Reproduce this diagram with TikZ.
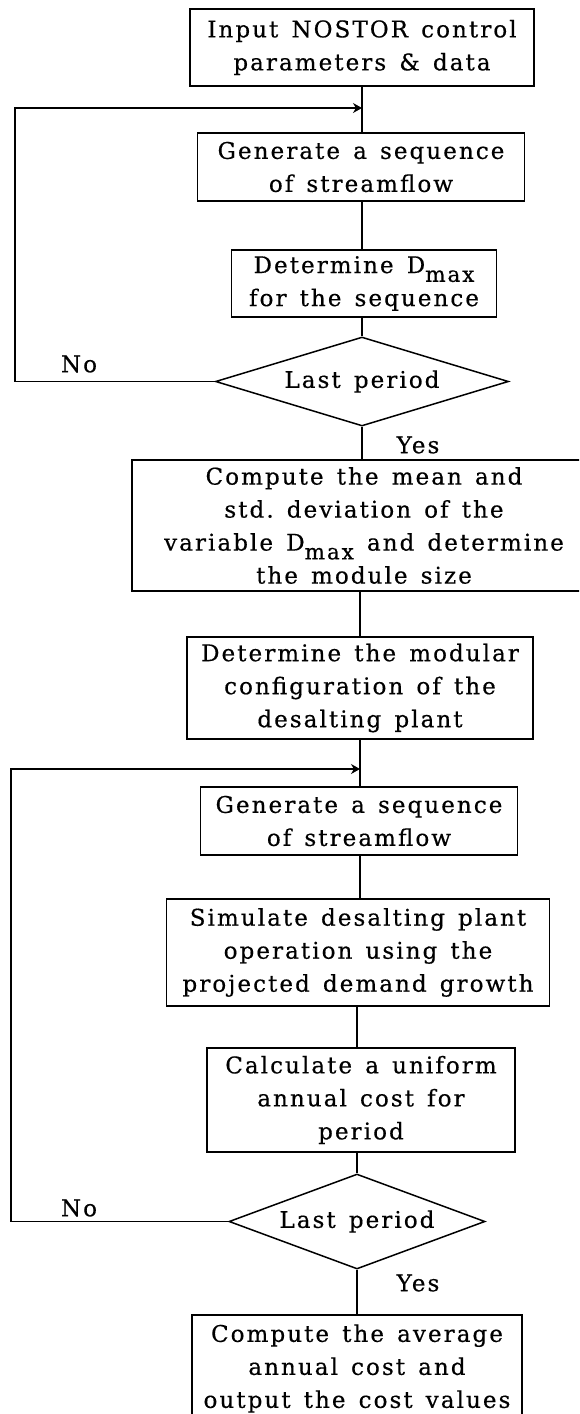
\documentclass[tikz,border=0pt]{standalone}
\usepackage{fontspec}
\setmainfont{DejaVu Serif}[LetterSpace=9,WordSpace=1.4,FakeBold=0.5]
\usetikzlibrary{shapes.geometric,arrows.meta}
% D with a lowered "max" subscript that does not push the lines apart
\newcommand{\dmaxsym}{D\smash{\raisebox{-0.38em}{\fontsize{21.5}{21.5}\selectfont max}}}
\begin{document}
\begin{tikzpicture}[x=1pt,y=-1pt,
  txt/.style={font=\fontsize{23}{33}\selectfont},
  box/.style={txt,draw,line width=1.5pt,inner sep=0pt,align=center},
  dec/.style={txt,diamond,draw,line width=1.5pt,inner sep=0pt,align=center},
  link/.style={line width=1.2pt},
  back/.style={link,-{Stealth[length=9pt,width=10pt]}},
  lbl/.style={txt,inner sep=0pt}]
\useasboundingbox (0,0) rectangle (579,1414);
\fill[white] (0,0) rectangle (579,1414);
\clip (0,0) rectangle (579,1414);

% process boxes and decisions
\node[box,minimum width=344,minimum height=77] (b1) at (362,47.5)
  {Input NOSTOR control\\parameters \& data};
\node[box,minimum width=327,minimum height=68] (b2) at (361,167)
  {Generate a sequence\\of streamflow};
\node[box,minimum width=265,minimum height=67] (b3) at (364,283.5)
  {Determine \dmaxsym\\for the sequence};
\node[dec,shape aspect=3.3,minimum width=293,minimum height=89] (d1) at (362,381.5)
  {Last period};
\node[box,minimum width=464,minimum height=131] (b4) at (364,525.5)
  {Compute the mean and\\std.\ deviation of the\\variable \dmaxsym{} and determine\\the module size};
\node[box,minimum width=346,minimum height=102] (b5) at (360,688)
  {Determine the modular\\configuration of the\\desalting plant};
\node[box,minimum width=317,minimum height=68] (b6) at (359,821)
  {Generate a sequence\\of streamflow};
\node[box,minimum width=383,minimum height=107] (b7) at (358,952.5)
  {Simulate desalting plant\\operation using the\\projected demand growth};
\node[box,minimum width=308,minimum height=104] (b8) at (361,1100)
  {Calculate a uniform\\annual cost for\\period};
\node[dec,shape aspect=2.7,minimum width=256,minimum height=95] (d2) at (357,1221.5)
  {Last period};
\node[box,minimum width=330,minimum height=107] (b9) at (357,1368.5)
  {Compute the average\\annual cost and\\output the cost values};

% branch labels
\node[lbl] (no1) at (79,364) {No};
\node[lbl] (yes1) at (418,445) {Yes};
\node[lbl] (no2) at (79,1208) {No};
\node[lbl] (yes2) at (418,1283) {Yes};

% main flow, kept on one vertical spine
\coordinate (s1) at (362,0);
\coordinate (s2) at (360,0);
\coordinate (s3) at (357,0);
\draw[link] (s1 |- b1.south) -- (s1 |- b2.north);
\draw[link] (s1 |- b2.south) -- (s1 |- b3.north);
\draw[link] (s1 |- b3.south) -- (d1.north);
\draw[link] (d1.south) -- (s1 |- b4.north);
\draw[link] (s2 |- b4.south) -- (s2 |- b5.north);
\draw[link] (s2 |- b5.south) -- (s2 |- b6.north);
\draw[link] (s2 |- b6.south) -- (s2 |- b7.north);
\draw[link] (s3 |- b7.south) -- (s3 |- b8.north);
\draw[link] (s3 |- b8.south) -- (d2.north);
\draw[link] (d2.south) -- (s3 |- b9.north);

% return loops
\coordinate (j1) at (362,108);
\coordinate (k1) at (15,108);
\draw[back] (d1.west) -| (k1) -- (j1);
\coordinate (j2) at (360,769);
\coordinate (k2) at (11,769);
\draw[back] (d2.west) -| (k2) -- (j2);
\end{tikzpicture}
\end{document}
